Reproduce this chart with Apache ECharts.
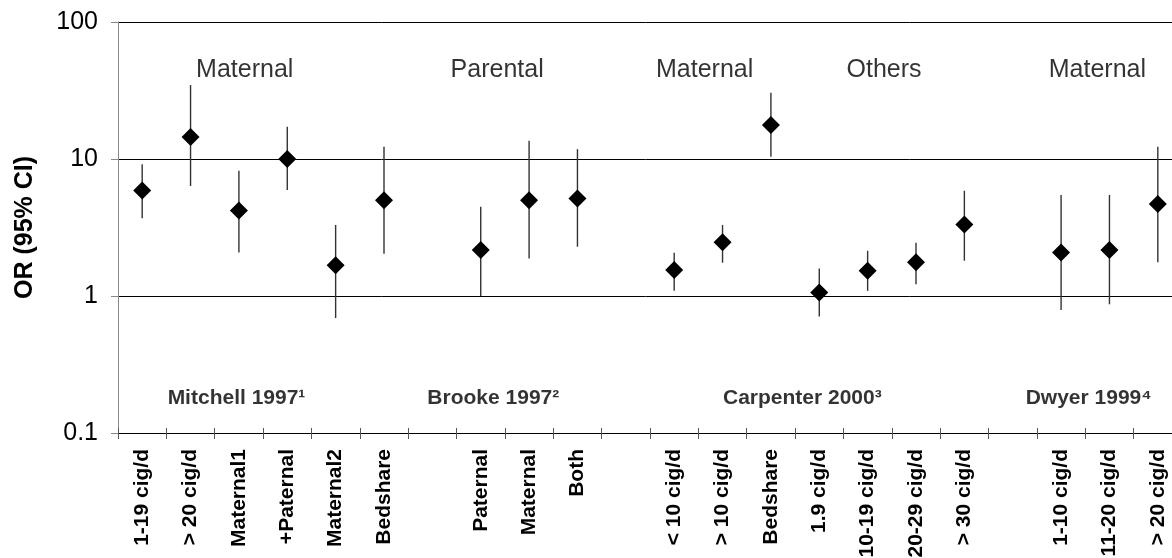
<!DOCTYPE html>
<html>
<head>
<meta charset="utf-8">
<script src="https://cdn.jsdelivr.net/npm/echarts@6/dist/echarts.min.js"></script>
<style>
html, body { margin: 0; padding: 0; background: #fff; }
#main { width: 1172px; height: 558px; }
</style>
</head>
<body>
<div id="main"></div>
<script>
// categories ('' = gap between studies)
var categories = ['1-19 cig/d', '> 20 cig/d', 'Maternal1', '+Paternal', 'Maternal2', 'Bedshare', '',
    'Paternal', 'Maternal', 'Both', '',
    '< 10 cig/d', '> 10 cig/d', 'Bedshare', '1.9 cig/d', '10-19 cig/d', '20-29 cig/d', '> 30 cig/d', '',
    '1-10 cig/d', '11-20 cig/d', '> 20 cig/d'];
var orValues = [5.9, 14.5, 4.2, 10.0, 1.68, 5.0, '-', 2.17, 5.0, 5.15, '-',
    1.55, 2.47, 17.7, 1.06, 1.53, 1.76, 3.33, '-', 2.08, 2.17, 4.7];
var ciLow = [3.69, 6.35, 2.08, 5.94, 0.69, 2.03, '-', 1.0, 1.88, 2.29, '-',
    1.09, 1.75, 10.4, 0.71, 1.09, 1.22, 1.81, '-', 0.79, 0.87, 1.76];
var ciHigh = [9.15, 34.7, 8.2, 17.2, 3.3, 12.3, '-', 4.49, 13.6, 11.8, '-',
    2.07, 3.3, 30.5, 1.59, 2.14, 2.45, 5.87, '-', 5.46, 5.46, 12.3];
var yTicks = [0.1, 1, 10, 100];

// text annotations, x in category-band units
var groupNames = ['Maternal', 'Parental', 'Maternal', 'Others', 'Maternal'];
var groupPos = [2.62, 7.84, 12.13, 15.84, 20.25];
var groupLevel = 44.7;
var studyNames = ['Mitchell 1997\u00b9', 'Brooke 1997\u00b2', 'Carpenter 2000\u00b3', 'Dwyer 1999\u2074'];
var studyPos = [2.45, 7.76, 14.15, 20.07];
var studyLevel = 0.18;

var myChart = echarts.init(document.getElementById('main'));

var points = [], bars = [];
for (var i = 0; i < categories.length; i++) {
    if (orValues[i] === '-') continue;
    points.push([i, orValues[i]]);
    bars.push([i, ciLow[i], ciHigh[i]]);
}
var groupData = groupNames.map(function (n, i) { return { name: n, value: [groupPos[i], groupLevel] }; });
var studyData = studyNames.map(function (n, i) { return { name: n, value: [studyPos[i], studyLevel] }; });

var font = 'Liberation Sans, Arial, sans-serif';

var option = {
    animation: false,
    grid: { left: 118, right: -10, top: 22, bottom: 125, containLabel: false, outerBoundsMode: 'none' },
    xAxis: [
        {
            type: 'category',
            data: categories,
            axisLine: { lineStyle: { color: '#000', width: 1 } },
            axisTick: { show: true, interval: 0, length: 6, lineStyle: { color: '#555' } },
            axisLabel: {
                interval: 0, rotate: 90, margin: 16,
                fontFamily: font, fontWeight: 'bold', fontSize: 21, color: '#000'
            },
            splitLine: { show: false }
        },
        {
            type: 'category',
            data: categories,
            position: 'bottom',
            axisLine: { show: false },
            axisTick: { show: true, inside: true, interval: 0, length: 5, lineStyle: { color: '#555' } },
            axisLabel: { show: false },
            splitLine: { show: false }
        },
        { type: 'value', min: 0, max: 22, show: false }
    ],
    yAxis: {
        type: 'log',
        logBase: 10,
        min: yTicks[0],
        max: yTicks[yTicks.length - 1],
        name: 'OR (95% CI)',
        nameLocation: 'middle',
        nameGap: 80,
        nameTextStyle: { fontFamily: font, fontWeight: 'bold', fontSize: 25, color: '#000' },
        axisLine: { show: true, lineStyle: { color: '#888' } },
        axisTick: { show: true, length: 7, lineStyle: { color: '#888' } },
        axisLabel: {
            margin: 20, fontFamily: font, fontSize: 25, color: '#000',
            formatter: function (v) { return String(+v.toPrecision(3)); }
        },
        splitLine: { show: true, lineStyle: { color: '#000', width: 1 } }
    },
    series: [
        {
            type: 'custom',
            xAxisIndex: 0,
            data: bars,
            encode: { x: 0, y: [1, 2] },
            renderItem: function (params, api) {
                var lo = api.coord([api.value(0), api.value(1)]);
                var hi = api.coord([api.value(0), api.value(2)]);
                return {
                    type: 'line',
                    shape: { x1: lo[0], y1: lo[1], x2: hi[0], y2: hi[1] },
                    style: { stroke: '#333', lineWidth: 1.4 }
                };
            },
            z: 2
        },
        {
            type: 'scatter',
            xAxisIndex: 0,
            data: points,
            symbol: 'diamond',
            symbolSize: 18,
            itemStyle: { color: '#000', opacity: 1 },
            z: 3
        },
        {
            type: 'scatter',
            xAxisIndex: 2,
            data: groupData,
            symbolSize: 0,
            silent: true,
            label: { show: true, position: 'inside', formatter: '{b}',
                fontFamily: font, fontSize: 25, color: '#000' }
        },
        {
            type: 'scatter',
            xAxisIndex: 2,
            data: studyData,
            symbolSize: 0,
            silent: true,
            label: { show: true, position: 'inside', formatter: '{b}',
                fontFamily: font, fontWeight: 'bold', fontSize: 21, color: '#000' }
        }
    ]
};

myChart.setOption(option);
</script>
</body>
</html>
